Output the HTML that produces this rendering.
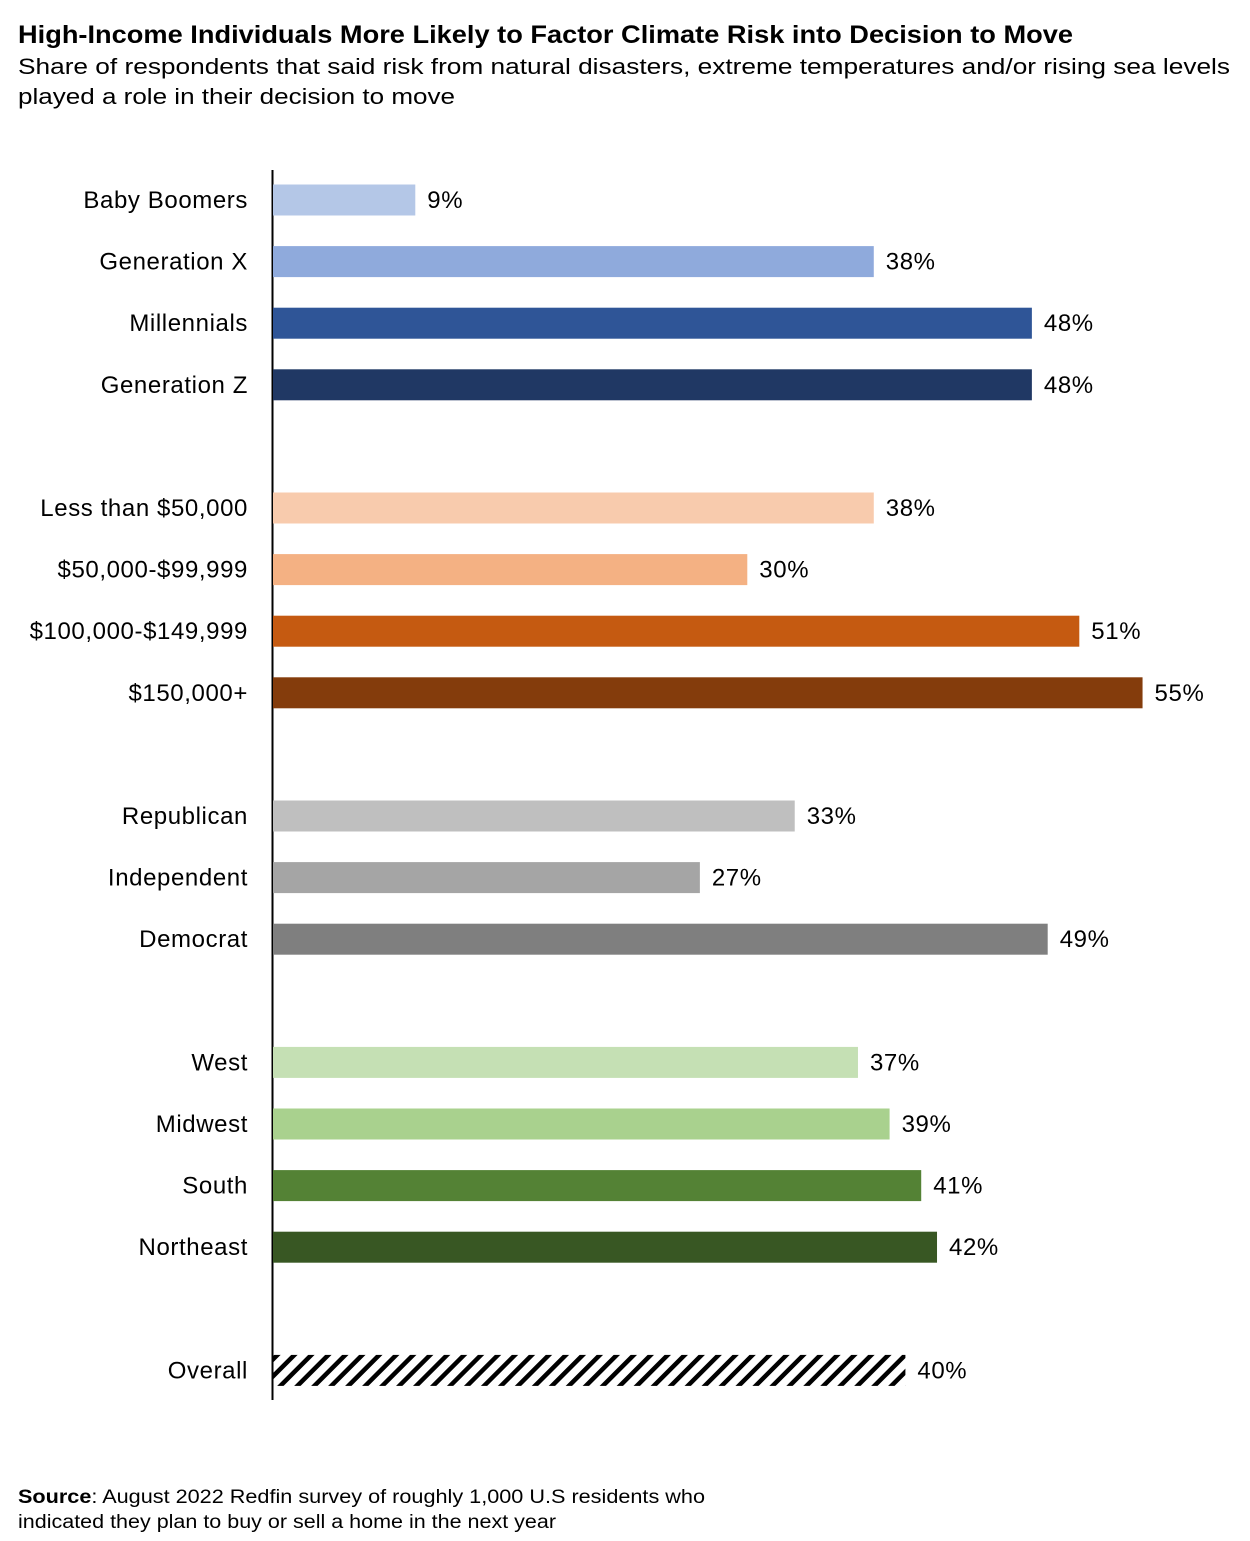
<!DOCTYPE html>
<html><head><meta charset="utf-8"><style>
body{margin:0;background:#fff;font-family:"Liberation Sans",sans-serif;}
#wrap{position:relative;width:1250px;height:1541px;overflow:hidden;}
</style></head><body>
<div id="wrap">
<svg id="chart" width="1250" height="1541" xmlns="http://www.w3.org/2000/svg">
<defs><pattern id="hatch" patternUnits="userSpaceOnUse" width="12" height="12" patternTransform="rotate(45)"><rect x="0" y="0" width="4.5" height="12" fill="#000"/></pattern></defs>
<text x="18" y="43" font-size="25" font-weight="bold" fill="#000" textLength="1055" lengthAdjust="spacingAndGlyphs">High-Income Individuals More Likely to Factor Climate Risk into Decision to Move</text>
<text x="18" y="74" font-size="22" fill="#000" textLength="1212" lengthAdjust="spacingAndGlyphs">Share of respondents that said risk from natural disasters, extreme temperatures and/or rising sea levels</text>
<text x="18" y="104" font-size="22" fill="#000" textLength="437" lengthAdjust="spacingAndGlyphs">played a role in their decision to move</text>
<line x1="272.5" y1="170" x2="272.5" y2="1400" stroke="#000" stroke-width="2"/>
<g id="bars"></g>
<text x="18" y="1503" font-size="19" fill="#000" textLength="687" lengthAdjust="spacingAndGlyphs"><tspan font-weight="bold">Source</tspan>: August 2022 Redfin survey of roughly 1,000 U.S residents who</text>
<text x="18" y="1528" font-size="19" fill="#000" textLength="538" lengthAdjust="spacingAndGlyphs">indicated they plan to buy or sell a home in the next year</text>
</svg>
</div>
<script>
const categories = ["Baby Boomers","Generation X","Millennials","Generation Z","Less than $50,000","$50,000-$99,999","$100,000-$149,999","$150,000+","Republican","Independent","Democrat","West","Midwest","South","Northeast","Overall"];
const values = [9,38,48,48,38,30,51,55,33,27,49,37,39,41,42,40];
const slots = [0,1,2,3,5,6,7,8,10,11,12,14,15,16,17,19];
const colors = ["#b4c7e7","#8faadc","#2f5597","#203864","#f8cbad","#f4b183","#c55a11","#843c0c","#bfbfbf","#a5a5a5","#7f7f7f","#c5e0b4","#a9d18e","#548235","#385723","url(#hatch)"];
const x0 = 273, pxPer = 15.81, y0 = 200, pitch = 61.6, bh = 31;
const xScale = v => x0 + v * pxPer;
const yScale = s => y0 + s * pitch;
const g = document.getElementById('bars');
const NS = "http://www.w3.org/2000/svg";
categories.forEach((c, i) => {
  const yc = yScale(slots[i]);
  const r = document.createElementNS(NS, 'rect');
  r.setAttribute('x', x0);
  r.setAttribute('y', yc - bh/2);
  r.setAttribute('width', xScale(values[i]) - x0);
  r.setAttribute('height', bh);
  r.setAttribute('fill', colors[i]);
  
  
  g.appendChild(r);
  const t = document.createElementNS(NS, 'text');
  t.setAttribute('x', 248);
  t.setAttribute('y', yc + 8);
  t.setAttribute('text-anchor', 'end');
  t.setAttribute('font-size', '24');
  t.setAttribute('letter-spacing', '0.6');
  t.textContent = c;
  
  
  g.appendChild(t);
  const v = document.createElementNS(NS, 'text');
  v.setAttribute('x', xScale(values[i]) + 12);
  v.setAttribute('y', yc + 8);
  v.setAttribute('font-size', '24');
  v.setAttribute('letter-spacing', '0.6');
  v.textContent = values[i] + '%';
  
  
  g.appendChild(v);
});
</script>
</body></html>
